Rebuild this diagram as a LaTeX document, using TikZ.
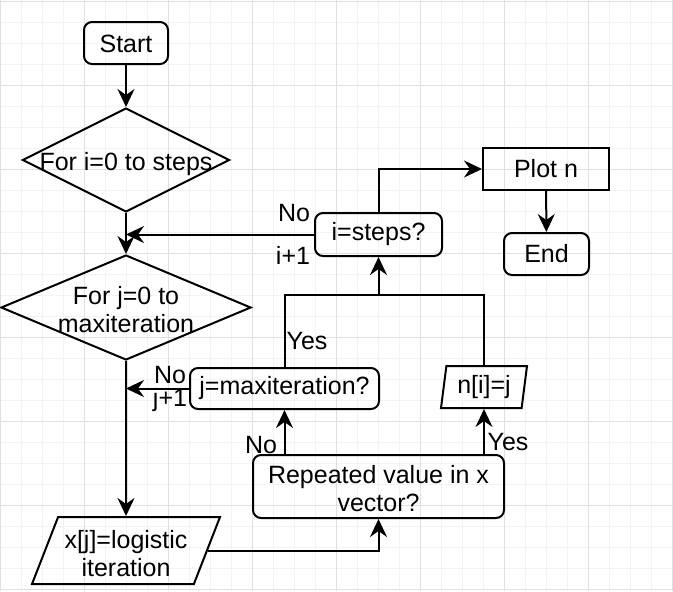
\documentclass[tikz,border=0pt]{standalone}
\usepackage{fontspec}
\setmainfont{Liberation Sans}
\usepackage{tikz}
\usetikzlibrary{shapes.geometric,arrows.meta}
\definecolor{gridminor}{HTML}{F3F3F3}
\definecolor{gridmajor}{HTML}{E0E0E0}
\tikzset{>={Stealth[length=9pt,width=8.5pt,inset=3pt]}}
\tikzset{
  roundbox/.style={draw,line width=1pt,rounded corners=4pt,align=center,inner sep=0pt},
  plainbox/.style={draw,line width=1pt,align=center,inner sep=0pt},
  decision/.style={draw,line width=1pt,diamond,inner sep=0pt},
  iobox/.style={draw,line width=1pt,trapezium,trapezium stretches body,align=center,inner sep=0pt},
  lbl/.style={inner sep=0pt}
}
\newcommand{\dropby}[2]{\raisebox{-#1}[\height][\depth]{#2}}
\newcommand{\twolines}[2]{\begin{tabular}{@{}c@{}}#1\\#2\end{tabular}}

\begin{document}
\begin{tikzpicture}[x=0.5pt,y=-0.5pt,font=\fontsize{12.5pt}{14pt}\selectfont,line width=1pt]
    \fill[white] (0,0) rectangle (673,591);
    \useasboundingbox (0,0) rectangle (673,591);
    \foreach \gx in {0,21,...,672} \draw[gridminor,line width=0.5pt] (\gx,0) -- (\gx,591);
    \foreach \gy in {1,22,...,589} \draw[gridminor,line width=0.5pt] (0,\gy) -- (673,\gy);
    \foreach \gx in {0,84,...,672} \draw[gridmajor,line width=0.5pt] (\gx,0) -- (\gx,591);
    \foreach \gy in {1,85,...,589} \draw[gridmajor,line width=0.5pt] (0,\gy) -- (673,\gy);

    \node[roundbox,minimum width=42pt,minimum height=21pt] (start) at (126,43) {\dropby{0.5pt}{Start}};
    \node[decision,minimum width=103.5pt,minimum height=52pt] (loopi) at (126,160) {\makebox[0pt]{\dropby{2pt}{For i=0 to steps}}};
    \node[decision,minimum width=125pt,minimum height=52.5pt] (loopj) at (126,307.5) {\makebox[0pt]{\dropby{2.5pt}{\twolines{For j=0 to}{maxiteration}}}};
    \node[iobox,trapezium left angle=65,trapezium right angle=115,minimum width=94pt,minimum height=33.5pt] (logist) at (126,550.5) {\dropby{3pt}{\twolines{x[j]=logistic}{iteration}}};
    \node[roundbox,minimum width=125.5pt,minimum height=31.5pt] (repeated) at (378.5,486.5) {\dropby{2.5pt}{\twolines{Repeated value in x}{vector?}}};
    \node[roundbox,minimum width=94.5pt,minimum height=20.5pt] (jcheck) at (284.5,388.5) {j=maxiteration?};
    \node[iobox,trapezium left angle=77,trapezium right angle=103,minimum width=43pt,minimum height=21pt] (nstore) at (484,387) {n[i]=j};
    \node[roundbox,minimum width=63.5pt,minimum height=21.5pt] (icheck) at (378.5,234.5) {i=steps?};
    \node[plainbox,minimum width=63pt,minimum height=21pt] (plotn) at (546,169) {Plot n};
    \node[roundbox,minimum width=42.5pt,minimum height=21pt] (finish) at (546.5,254) {End};
    \coordinate (merge) at (378.5,295);

    \draw[->] (start) -- (loopi);
    \draw[->] (loopi) -- (loopj);
    \draw[->] (icheck.west) -- (icheck.west -| loopi.south);
    \draw[->] (icheck.north) |- (plotn.west);
    \draw[->] (plotn) -- (finish);
    \draw[->] (jcheck.west) -- (jcheck.west -| loopj.south);
    \draw[->] (loopj) -- (logist);
    \draw[->] (logist.east) -| (repeated.south);
    \draw[->] (repeated.north -| jcheck.south) -- (jcheck.south);
    \draw[->] (repeated.north -| nstore.south) -- (nstore.south);
    \draw (jcheck.north) |- (merge) -| (nstore.north);
    \draw[->] (merge) -- (icheck.south);

    \node[lbl] (noi) at (294,213) {No};
    \node[lbl] (inci) at (293,255) {i+1};
    \node[lbl] (noj) at (170,375) {No};
    \node[lbl] (incj) at (170,400) {j+1};
    \node[lbl] (yesj) at (307,341) {Yes};
    \node[lbl] (norep) at (261,445) {No};
    \node[lbl] (yesrep) at (508,442) {Yes};
  \end{tikzpicture}
\end{document}
